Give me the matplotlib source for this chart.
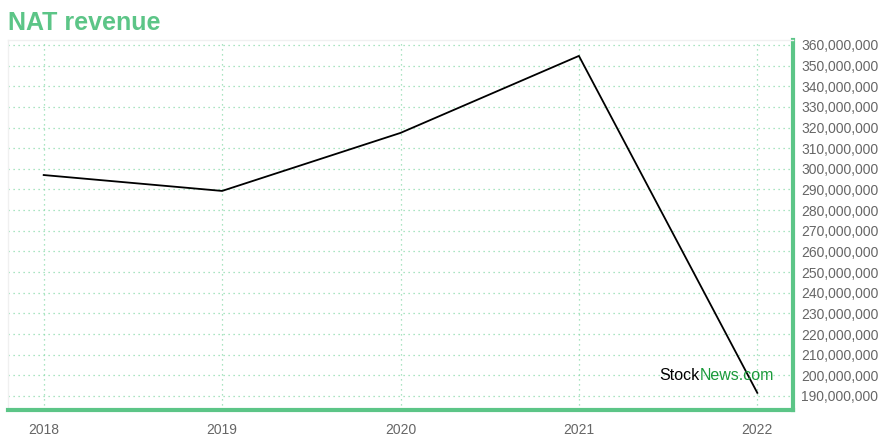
import matplotlib
matplotlib.use("Agg")
from matplotlib import pyplot as plt
from matplotlib.ticker import FuncFormatter

plt.rcParams['font.family'] = ['Liberation Sans', 'DejaVu Sans']

years = [2018, 2019, 2020, 2021, 2022]
revenue = [297.0e6, 289.3e6, 317.4e6, 354.7e6, 191.5e6]
y_ticks = [v * 1e6 for v in range(190, 361, 10)]

green = '#5cc587'

fig = plt.figure(figsize=(8.8, 4.4), dpi=100)
ax = fig.add_axes([8 / 880, 30 / 440, 785 / 880, 370 / 440])

ax.plot(years, revenue, color='black', linewidth=1.3, zorder=3)

ax.set_xlim(2017.8, 2022.2)
ax.set_ylim(183.2e6, 362.4e6)
ax.set_xticks(years)
ax.set_yticks(y_ticks)
ax.yaxis.tick_right()
ax.yaxis.set_major_formatter(FuncFormatter(lambda v, p: f"{v:,.0f}"))
ax.tick_params(axis='both', length=0, labelsize=10, colors='#666666', pad=6)
ax.tick_params(axis='x', pad=9)

ax.grid(True, color='#8fdcae', linestyle=(0, (1, 3)), linewidth=0.9)

for side in ['top', 'left']:
    ax.spines[side].set_color('#f0f0f0')
    ax.spines[side].set_linewidth(1)
for side in ['bottom', 'right']:
    ax.spines[side].set_color(green)
    ax.spines[side].set_linewidth(3)

fig.text(8 / 880, 1 - 23 / 440, 'NAT revenue', color=green, fontsize=18,
         fontweight='bold', va='center', ha='left')

# watermark, two colours side by side
stock = ax.text(0.83, 0.094, 'Stock', transform=ax.transAxes, fontsize=11.5,
                color='black', ha='left', va='center', zorder=4)
ax.annotate('News.com', xy=(1, 0.5), xycoords=stock, fontsize=11.5,
            color='#1a9a3a', ha='left', va='center', zorder=4)

fig.savefig('out.png', dpi=100, facecolor='white')
